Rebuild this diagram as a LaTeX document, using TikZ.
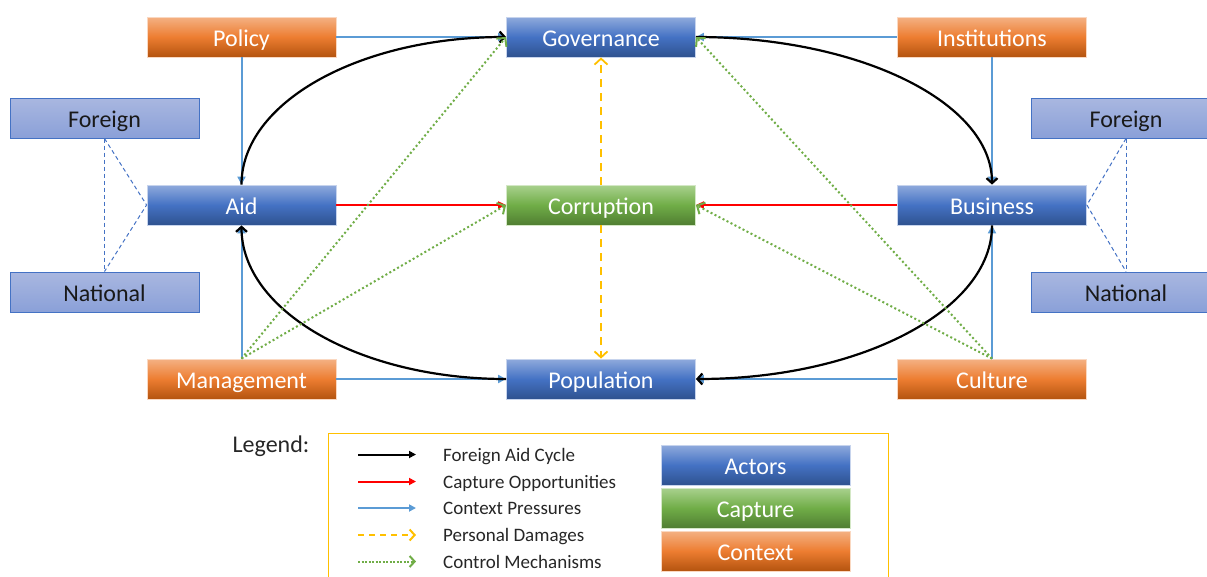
\documentclass[tikz,border=0pt]{standalone}
\usepackage{fontspec}
\setmainfont{Carlito}
\usetikzlibrary{arrows.meta}

% box fills
\definecolor{actTop}{HTML}{8FAADC}
\definecolor{actMid}{HTML}{4472C4}
\definecolor{actBot}{HTML}{2F528F}
\definecolor{capTop}{HTML}{A9D18E}
\definecolor{capMid}{HTML}{70AD47}
\definecolor{capBot}{HTML}{507E32}
\definecolor{ctxTop}{HTML}{F4B183}
\definecolor{ctxMid}{HTML}{ED7D31}
\definecolor{ctxBot}{HTML}{B4540F}
\definecolor{orgTop}{HTML}{A9B7E0}
\definecolor{orgBot}{HTML}{8AA0D8}
% connector colours
\definecolor{pressBlue}{HTML}{5B9BD5}
\definecolor{dmgOrange}{HTML}{FFC000}
\definecolor{ctlGreen}{HTML}{70AD47}
\definecolor{linkBlue}{HTML}{4472C4}
\definecolor{legendGold}{HTML}{FFC000}

\begin{document}
\begin{tikzpicture}[x=1pt,y=-1pt,
  box/.style={minimum width=189pt, minimum height=40pt, inner sep=0pt,
    text height=18pt, text depth=0pt,
    font=\fontsize{24}{28}\selectfont, text=white, line width=0.8pt},
  actor/.style={box, top color=actTop, bottom color=actBot, middle color=actMid, draw=actTop!50!white},
  capturebox/.style={box, top color=capTop, bottom color=capBot, middle color=capMid, draw=capTop!50!white},
  contextbox/.style={box, top color=ctxTop, bottom color=ctxBot, middle color=ctxMid, draw=ctxTop!50!white},
  origin/.style={box, text=black!90, top color=orgTop, bottom color=orgBot, draw=linkBlue, line width=1pt},
  cycle/.style={line width=2.2pt, black, -{Straight Barb[length=5pt,width=11pt]}},
  pressure/.style={line width=2pt, pressBlue, -{Triangle[length=8pt,width=8pt]}},
  captureline/.style={line width=1.8pt, red, -{Triangle[length=8pt,width=7pt]}},
  damage/.style={line width=1.8pt, dmgOrange, dash pattern=on 8pt off 6pt, -{Straight Barb[length=6pt,width=13pt]}},
  control/.style={line width=2pt, ctlGreen, dash pattern=on 2pt off 2.5pt, -{Straight Barb[length=6pt,width=13pt]}},
  link/.style={line width=1pt, linkBlue, dash pattern=on 4pt off 3pt},
  legtext/.style={anchor=west, inner sep=0pt, text height=13pt, text depth=0pt,
    font=\fontsize{19}{22}\selectfont, text=black!85},
  legline/.style={line width=2pt},
]
\useasboundingbox (0,0) rectangle (1207,576);
\clip (0,0) rectangle (1207,576);

% context boxes
\node[contextbox] (policy) at (241.5,37) {Policy};
\node[contextbox] (inst) at (992,37) {Institutions};
\node[contextbox] (mgmt) at (241.5,379) {Management};
\node[contextbox] (culture) at (992,379) {Culture};
% actors
\node[actor] (gov) at (601,37) {Governance};
\node[actor] (aid) at (241.5,205) {Aid};
\node[actor] (bus) at (992,205) {Business};
\node[actor] (pop) at (601,379) {Population};
% capture
\node[capturebox] (corr) at (601,205) {Corruption};
% origin boxes
\node[origin] (forL) at (104.5,118) {Foreign};
\node[origin] (natL) at (104.5,292) {National};
\node[origin] (forR) at (1126,118) {Foreign};
\node[origin] (natR) at (1126,292) {National};

% origin links
\draw[link] (forL.south) -- (natL.north);
\draw[link] (forL.south) -- (aid.west) -- (natL.north);
\draw[link] (forR.south) -- (natR.north);
\draw[link] (forR.south) -- (bus.east) -- (natR.north);

% context pressures
\draw[pressure] (policy.east) -- (gov.west);
\draw[pressure] (policy.south) -- (aid.north);
\draw[pressure] (inst.west) -- (gov.east);
\draw[pressure] (inst.south) -- (bus.north);
\draw[pressure] (mgmt.east) -- (pop.west);
\draw[pressure] (mgmt.north) -- (aid.south);
\draw[pressure] (culture.west) -- (pop.east);
\draw[pressure] (culture.north) -- (bus.south);

% foreign aid cycle
\draw[cycle] (aid.north) .. controls +(0,-82) and +(-147,0) .. (gov.west);
\draw[cycle] (gov.east) .. controls +(164,0) and +(0,-82) .. (bus.north);
\draw[cycle] (bus.south) .. controls +(0,85) and +(164,0) .. (pop.east);
\draw[cycle] (pop.west) .. controls +(-147,0) and +(0,85) .. (aid.south);

% capture opportunities
\draw[captureline] (aid.east) -- (corr.west);
\draw[captureline] (bus.west) -- (corr.east);

% personal damages
\draw[damage] (corr.north) -- (gov.south);
\draw[damage] (corr.south) -- (pop.north);

% control mechanisms
\draw[control] (mgmt.north) -- (gov.west);
\draw[control] (mgmt.north) -- (corr.west);
\draw[control] (culture.north) -- (gov.east);
\draw[control] (culture.north) -- (corr.east);

% legend
\node[font=\fontsize{24}{28}\selectfont, text=black!85, inner sep=0pt,
      text height=17pt, text depth=0pt] (legtitle) at (271,444) {Legend:};
\draw[legendGold, line width=1pt] (328,433) rectangle (888,600);

\coordinate (la1) at (358,454.5); \coordinate (lb1) at (416,454.5);
\coordinate (la2) at (358,481.5); \coordinate (lb2) at (416,481.5);
\coordinate (la3) at (358,508);   \coordinate (lb3) at (416,508);
\coordinate (la4) at (358,535);   \coordinate (lb4) at (416,535);
\coordinate (la5) at (358,561.5); \coordinate (lb5) at (416,561.5);
\draw[legline, black, -{Triangle[length=7pt,width=7pt]}] (la1) -- (lb1);
\draw[legline, red, -{Triangle[length=7pt,width=7pt]}] (la2) -- (lb2);
\draw[legline, pressBlue, -{Triangle[length=7pt,width=7pt]}] (la3) -- (lb3);
\draw[legline, dmgOrange, dash pattern=on 6pt off 5pt, -{Straight Barb[length=5pt,width=11pt]}] (la4) -- (lb4);
\draw[legline, ctlGreen, dash pattern=on 2pt off 1.5pt, -{Straight Barb[length=5pt,width=11pt]}] (la5) -- (lb5);

\node[legtext] (lt1) at (443,454.5) {Foreign Aid Cycle};
\node[legtext] (lt2) at (443,481.5) {Capture Opportunities};
\node[legtext] (lt3) at (443,508) {Context Pressures};
\node[legtext] (lt4) at (443,535) {Personal Damages};
\node[legtext] (lt5) at (443,561.5) {Control Mechanisms};

\node[actor] (kact) at (755.5,465) {Actors};
\node[capturebox] (kcap) at (755.5,508) {Capture};
\node[contextbox] (kctx) at (755.5,551) {Context};
\end{tikzpicture}
\end{document}
